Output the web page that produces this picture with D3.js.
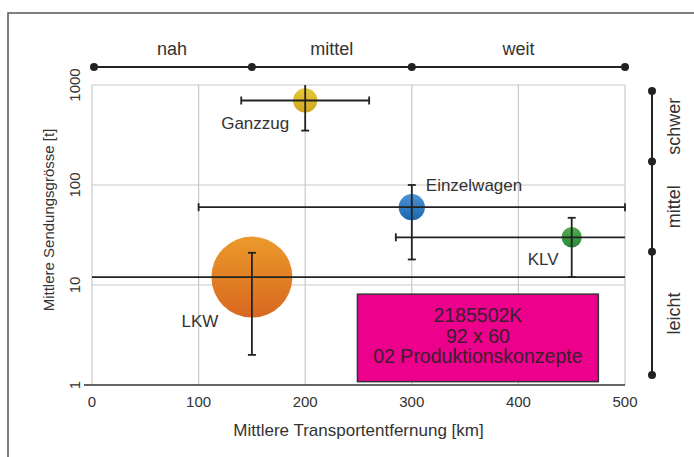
<!DOCTYPE html>
<html>
<head>
<meta charset="utf-8">
<script src="https://cdn.jsdelivr.net/npm/d3@7"></script>
<style>
  body { margin: 0; background: #fff; }
  svg { display: block; font-family: "Liberation Sans", Arial, sans-serif; }
  text { fill: #333; }
</style>
</head>
<body>
<script>
// Produktionskonzepte: Entfernung vs. Sendungsgroesse
var names    = ["Ganzzug", "Einzelwagen", "KLV", "LKW"];
var dist     = [200, 300, 450, 150];     // km
var size     = [700, 60, 30, 12];        // t
var distLo   = [140, 100, 285, 0];
var distHi   = [260, 500, 500, 500];
var sizeLo   = [350, 18, 12, 2];
var sizeHi   = [1000, 100, 47, 21];
var volume   = [9, 10.5, 6.3, 100];      // bubble area
var xTicks   = [0, 100, 200, 300, 400, 500];
var yTicks   = [1, 10, 100, 1000];
var distClasses = ["nah", "mittel", "weit"];
var distBreaks  = [0, 150, 300, 500];
var sizeClasses = ["leicht", "mittel", "schwer"];
var sizeBreaks  = [1, 20, 180, 1000];
var stamp = ["2185502K", "92 x 60", "02 Produktionskonzepte"];

var width = 694, height = 457,
    margin = {top: 85, right: 69, bottom: 72, left: 92};

var colors = {
  "Ganzzug":     ["#e6c83c", "#d1a61e"],
  "Einzelwagen": ["#4b93d3", "#1c66ae"],
  "KLV":         ["#55ad4f", "#27863a"],
  "LKW":         ["#eb9a2b", "#d8671f"]
};
// which error-bar ends get a cap: [xLo, xHi, yLo, yHi]
var caps = {
  "Ganzzug":     [1, 1, 1, 0],
  "Einzelwagen": [1, 1, 1, 1],
  "KLV":         [1, 0, 1, 1],
  "LKW":         [0, 0, 1, 1]
};
// label placement relative to bubble centre
var labelPos = {
  "Ganzzug":     {dx: -50, dy: 29, anchor: "middle"},
  "Einzelwagen": {dx: 14, dy: -16, anchor: "start"},
  "KLV":         {dx: -44, dy: 28, anchor: "start"},
  "LKW":         {dx: -52, dy: 50, anchor: "middle"}
};

var svg = d3.select("body").append("svg")
    .attr("width", width)
    .attr("height", height);

var x = d3.scaleLinear().domain([0, 500]).range([margin.left, width - margin.right]);
var y = d3.scaleLog().domain([1, 1000]).range([height - margin.bottom, margin.top]);
var r = d3.scaleSqrt().domain([0, 100]).range([0, 40.5]);

var data = names.map((n, i) => ({
  name: n, x: dist[i], y: size[i], x0: distLo[i], x1: distHi[i],
  y0: sizeLo[i], y1: sizeHi[i], v: volume[i]
}));

// outer frame
svg.append("rect")
    .attr("x", 8).attr("y", 13)
    .attr("width", 720).attr("height", 480)
    .attr("fill", "none")
    .attr("stroke", "#555")
    .attr("stroke-width", 1.5);

// gradients
var defs = svg.append("defs");
data.forEach((d, i) => {
  var g = defs.append("linearGradient")
      .attr("id", "grad" + i)
      .attr("x1", 0).attr("y1", 0).attr("x2", 0).attr("y2", 1);
  g.append("stop").attr("offset", "0%").attr("stop-color", colors[d.name][0]);
  g.append("stop").attr("offset", "100%").attr("stop-color", colors[d.name][1]);
});

// grid
var grid = svg.append("g").attr("stroke", "#c9c9c9").attr("stroke-width", 1.2);
grid.selectAll(".vx")
    .data(xTicks)
  .enter().append("line")
    .attr("x1", (d) => x(d)).attr("x2", (d) => x(d))
    .attr("y1", y(1000)).attr("y2", y(1));
grid.selectAll(".hy")
    .data(yTicks.filter((d) => d > 1))
  .enter().append("line")
    .attr("x1", x(0)).attr("x2", x(500))
    .attr("y1", (d) => y(d)).attr("y2", (d) => y(d));

// x axis base line
svg.append("line")
    .attr("x1", x(0) - 8).attr("x2", x(500))
    .attr("y1", y(1)).attr("y2", y(1))
    .attr("stroke", "#333").attr("stroke-width", 1.5);

// tick labels
svg.selectAll(".xt")
    .data(xTicks)
  .enter().append("text")
    .attr("x", (d) => x(d))
    .attr("y", y(1) + 22)
    .attr("text-anchor", "middle")
    .style("font-size", "15px")
    .text((d) => d);

svg.selectAll(".yt")
    .data(yTicks)
  .enter().append("text")
    .attr("transform", (d) => "translate(" + 80 + "," + y(d) + ") rotate(-90)")
    .attr("text-anchor", "middle")
    .style("font-size", "15px")
    .text((d) => d);

// axis titles
svg.append("text")
    .attr("x", (x(0) + x(500)) / 2)
    .attr("y", 436)
    .attr("text-anchor", "middle")
    .style("font-size", "17px")
    .text("Mittlere Transportentfernung [km]");

svg.append("text")
    .attr("transform", "translate(54," + 220 + ") rotate(-90)")
    .attr("text-anchor", "middle")
    .style("font-size", "15px")
    .text("Mittlere Sendungsgrösse [t]");

// stamp box
var bx0 = x(249), bx1 = x(475), by0 = y(8.1), by1 = y(1.08);
svg.append("rect")
    .attr("x", bx0).attr("y", by0)
    .attr("width", bx1 - bx0).attr("height", by1 - by0)
    .attr("fill", "#ec008c")
    .attr("stroke", "#333")
    .attr("stroke-width", 1.5);
svg.selectAll(".stamp")
    .data(stamp)
  .enter().append("text")
    .attr("x", (bx0 + bx1) / 2)
    .attr("y", (d, i) => by0 + 28 + i * 20.5)
    .attr("text-anchor", "middle")
    .style("font-size", "19.5px")
    .style("fill", "#3a1f2e")
    .text((d) => d);

// bubbles
svg.selectAll(".bubble")
    .data(data)
  .enter().append("circle")
    .attr("class", "bubble")
    .attr("cx", (d) => x(d.x))
    .attr("cy", (d) => y(d.y))
    .attr("r", (d) => r(d.v))
    .attr("fill", (d, i) => "url(#grad" + i + ")");

// error bars
var eb = svg.append("g").attr("stroke", "#222").attr("stroke-width", 1.8);
var cw = 4;
data.forEach((d) => {
  var cx = x(d.x), cy = y(d.y), c = caps[d.name];
  eb.append("line").attr("x1", x(d.x0)).attr("x2", x(d.x1)).attr("y1", cy).attr("y2", cy);
  eb.append("line").attr("x1", cx).attr("x2", cx).attr("y1", y(d.y0)).attr("y2", y(d.y1));
  if (c[0]) eb.append("line").attr("x1", x(d.x0)).attr("x2", x(d.x0)).attr("y1", cy - cw).attr("y2", cy + cw);
  if (c[1]) eb.append("line").attr("x1", x(d.x1)).attr("x2", x(d.x1)).attr("y1", cy - cw).attr("y2", cy + cw);
  if (c[2]) eb.append("line").attr("x1", cx - cw).attr("x2", cx + cw).attr("y1", y(d.y0)).attr("y2", y(d.y0));
  if (c[3]) eb.append("line").attr("x1", cx - cw).attr("x2", cx + cw).attr("y1", y(d.y1)).attr("y2", y(d.y1));
});

// labels
svg.selectAll(".label")
    .data(data)
  .enter().append("text")
    .attr("x", (d) => x(d.x) + labelPos[d.name].dx)
    .attr("y", (d) => y(d.y) + labelPos[d.name].dy)
    .attr("text-anchor", (d) => labelPos[d.name].anchor)
    .style("font-size", "17px")
    .text((d) => d.name);

// distance classes (top)
var bandY = 67;
var topBand = svg.append("g");
topBand.append("line")
    .attr("x1", x(distBreaks[0]) + 2).attr("x2", x(distBreaks[distBreaks.length - 1]))
    .attr("y1", bandY).attr("y2", bandY)
    .attr("stroke", "#222").attr("stroke-width", 2);
topBand.selectAll("circle")
    .data(distBreaks)
  .enter().append("circle")
    .attr("cx", (d, i) => x(d) + (i === 0 ? 2 : 0))
    .attr("cy", bandY)
    .attr("r", 4)
    .attr("fill", "#222");
topBand.selectAll("text")
    .data(distClasses)
  .enter().append("text")
    .attr("x", (d, i) => (x(distBreaks[i]) + x(distBreaks[i + 1])) / 2)
    .attr("y", bandY - 12)
    .attr("text-anchor", "middle")
    .style("font-size", "18px")
    .text((d) => d);

// size classes (right)
var yb = d3.scaleLog().domain([1, 1000]).range([375, 91]);
var sideX = 652;
var sideBand = svg.append("g");
sideBand.append("line")
    .attr("x1", sideX).attr("x2", sideX)
    .attr("y1", yb(1)).attr("y2", yb(1000))
    .attr("stroke", "#222").attr("stroke-width", 2);
sideBand.selectAll("circle")
    .data(sizeBreaks)
  .enter().append("circle")
    .attr("cx", sideX)
    .attr("cy", (d) => yb(d))
    .attr("r", 4)
    .attr("fill", "#222");
sideBand.selectAll("text")
    .data(sizeClasses)
  .enter().append("text")
    .attr("transform", (d, i) => "translate(" + (sideX + 28) + "," +
        ((yb(sizeBreaks[i]) + yb(sizeBreaks[i + 1])) / 2) + ") rotate(-90)")
    .attr("text-anchor", "middle")
    .style("font-size", "18px")
    .text((d) => d);
</script>
</body>
</html>
